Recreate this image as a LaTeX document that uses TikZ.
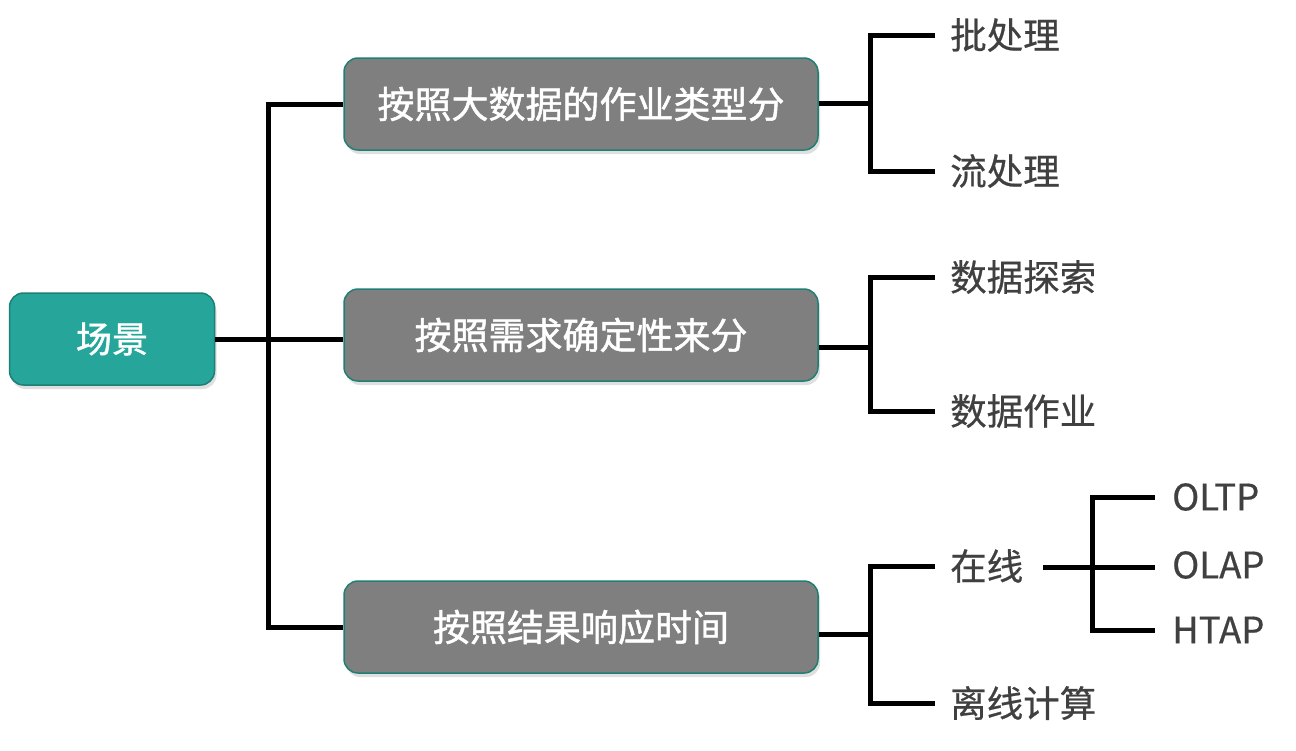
\documentclass[tikz,border=0pt]{standalone}
\usepackage{fontspec}
\setmainfont{Noto Sans CJK SC}
\newfontfamily\medfont[FakeBold=1.3]{Noto Sans CJK SC}
\newfontfamily\lblfont[FakeBold=0.6]{Noto Sans CJK SC}
\usetikzlibrary{shadows}
\definecolor{teal1}{HTML}{26A69A}
\definecolor{tealb}{HTML}{1E7F75}
\definecolor{boxgray}{HTML}{7F7F7F}
\definecolor{txt}{HTML}{404040}
\tikzset{
  shd/.style={drop shadow={opacity=0.25,shadow xshift=2pt,shadow yshift=-4pt}},
  rootbox/.style={draw=tealb,line width=1.5pt,fill=teal1,rounded corners=14pt,minimum width=205pt,minimum height=92pt,text=white,font=\medfont\fontsize{36}{40}\selectfont,shd},
  catbox/.style={draw=tealb,line width=1.5pt,fill=boxgray,rounded corners=14pt,minimum width=474pt,minimum height=92pt,text=white,font=\medfont\fontsize{37}{40}\selectfont,shd},
  leaf/.style={anchor=west,inner sep=0pt,text=txt,font=\lblfont\fontsize{36.5}{40}\selectfont},
  conn/.style={line width=5pt,black},
}
\begin{document}
\begin{tikzpicture}[x=1pt,y=-1pt]
\useasboundingbox (0,0) rectangle (1296,750);
% nodes
\node[rootbox] (root) at (112,339) {场景};
\node[catbox] (b1) at (581,104) {按照大数据的作业类型分};
\node[catbox] (b2) at (581,335) {按照需求确定性来分};
\node[catbox] (b3) at (581,627) {按照结果响应时间};
\node[leaf] (l11) at (950,35) {批处理};
\node[leaf] (l12) at (950,171) {流处理};
\node[leaf] (l21) at (950,277) {数据探索};
\node[leaf] (l22) at (950,411) {数据作业};
\node[leaf] (l31) at (950,566) {在线};
\node[leaf] (l32) at (950,703) {离线计算};
\node[leaf] (o1) at (1172,497) {OLTP};
\node[leaf] (o2) at (1172,565) {OLAP};
\node[leaf] (o3) at (1172,630) {HTAP};
% junction coordinates
\coordinate (t) at (268,339);
\coordinate (j1) at (870,103);
\coordinate (j2) at (870,347);
\coordinate (j3) at (870,634);
\coordinate (j4) at (1092,567);
% connectors
\begin{scope}[conn,line join=miter]
\draw (root.east) -- (t);
\draw (t) -- (b2.west |- t);
\draw (t) |- (b1.west);
\draw (t) |- (b3.west);
\draw (b1.east |- j1) -- (j1);
\draw ([xshift=-15pt]l11.west) -| (j1) |- ([xshift=-15pt]l12.west);
\draw (b2.east |- j2) -- (j2);
\draw ([xshift=-15pt]l21.west) -| (j2) |- ([xshift=-15pt]l22.west);
\draw (b3.east |- j3) -- (j3);
\draw ([xshift=-15pt]l31.west) -| (j3) |- ([xshift=-15pt]l32.west);
\draw ([xshift=20pt]l31.east |- j4) -- (j4);
\draw ([xshift=-17pt]o1.west) -| (j4) |- ([xshift=-17pt]o3.west);
\draw (j4) -- ([xshift=-17pt]o2.west |- j4);
\end{scope}
\end{tikzpicture}
\end{document}
